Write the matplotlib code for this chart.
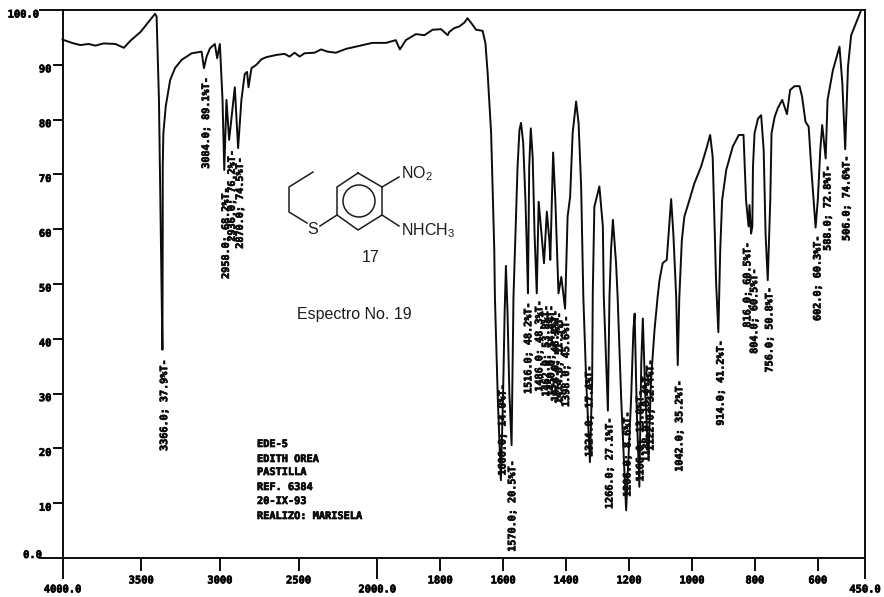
import matplotlib
matplotlib.use("Agg")
import matplotlib.pyplot as plt
import matplotlib.patheffects as pe
from matplotlib.patches import Circle
from matplotlib.transforms import ScaledTranslation
import numpy as np

# spectrum trace
wavenumber = [4000, 3940, 3887, 3834, 3791, 3738, 3664, 3610, 3568, 3504, 3451, 3412, 3402, 3387, 3365,
              3363, 3363, 3359, 3344, 3316, 3285, 3243, 3179, 3116, 3101, 3084, 3063, 3032, 3017, 3000,
              2983, 2972, 2958, 2941, 2905, 2884, 2863, 2842, 2827, 2818, 2799, 2768, 2736, 2704, 2641,
              2589, 2557, 2525, 2493, 2462, 2399, 2357, 2315, 2263, 2199, 2093, 2031, 1972, 1941, 1928,
              1909, 1877, 1850, 1824, 1797, 1776, 1771, 1755, 1739, 1723, 1713, 1697, 1686, 1665, 1656,
              1649, 1638, 1628, 1626, 1617, 1607, 1600, 1595, 1591, 1586, 1580, 1573, 1567, 1559,
              1554, 1548, 1543, 1536, 1529, 1525, 1521, 1517, 1512, 1506, 1500, 1493, 1487, 1480, 1470,
              1461, 1453, 1450, 1441, 1434, 1424, 1415, 1403, 1395, 1387, 1379, 1368, 1360, 1352, 1345,
              1336, 1324, 1317, 1315, 1310, 1294, 1283, 1280, 1267, 1262, 1257, 1251, 1241, 1236, 1225,
              1209, 1193, 1186, 1182, 1175, 1167, 1161, 1156, 1148, 1138, 1130, 1119, 1109, 1103, 1093,
              1080, 1066, 1059, 1050, 1045, 1040, 1032, 1024, 1008, 992, 971, 955, 942, 934, 923,
              916, 910, 904, 891, 870, 851, 836, 828, 820, 817, 812, 808, 806, 801, 790,
              780, 772, 766, 759, 751, 747, 737, 727, 713, 698, 688, 674, 658, 650, 639,
              629, 621, 607, 600, 592, 586, 582, 575, 569, 552, 531, 522, 513, 504, 494,
              483, 462]
transmittance = [94.6, 94.0, 93.6, 93.8, 93.5, 93.9, 93.8, 93.1, 94.4, 96.0, 97.9, 99.3, 98.8, 83.6, 38.0,
                 59.2, 71.4, 77.5, 82.4, 87.2, 89.4, 90.9, 92.1, 92.4, 89.4, 91.5, 93.0, 93.8, 91.2, 93.8,
                 83.6, 70.8, 83.6, 76.3, 85.9, 74.8, 83.6, 88.3, 88.7, 85.9, 89.4, 90.0, 91.0, 91.4, 91.8,
                 92.0, 91.5, 92.2, 91.5, 92.1, 92.2, 92.8, 92.4, 92.2, 92.9, 93.6, 94.0, 94.0, 94.5, 92.8,
                 94.5, 95.6, 95.4, 96.4, 96.5, 95.4, 96.0, 96.7, 97.0, 97.7, 98.5, 97.3, 96.4, 96.2, 93.9,
                 88.4, 77.5, 56.2, 47.6, 29.4, 14.2, 30.0, 45.0, 53.3, 45.0, 30.0, 20.6, 47.6, 62.3,
                 71.4, 78.1, 79.4, 75.7, 65.3, 57.4, 48.3, 71.4, 78.4, 73.2, 59.2, 48.3, 65.0, 60.5, 53.8,
                 63.2, 58.0, 54.4, 74.0, 65.3, 48.3, 51.3, 45.5, 62.3, 65.9, 77.5, 83.3, 79.3, 67.8, 47.6,
                 32.4, 17.5, 32.4, 48.3, 64.1, 67.8, 60.5, 47.6, 26.9, 47.6, 56.2, 61.7, 53.8, 47.6, 29.4,
                 8.7, 29.4, 41.5, 44.6, 26.3, 13.0, 35.5, 43.7, 29.4, 18.4, 32.4, 41.5, 47.6, 50.7, 53.8,
                 54.4, 65.5, 59.2, 47.7, 35.2, 47.6, 58.0, 62.3, 65.3, 68.4, 71.4, 74.5, 77.2, 73.2, 50.1,
                 41.2, 56.2, 65.3, 70.8, 75.1, 77.2, 77.2, 65.3, 60.5, 64.4, 59.2, 60.5, 71.4, 77.5, 80.2,
                 80.8, 74.5, 59.2, 50.7, 65.3, 77.5, 80.5, 82.1, 83.6, 81.0, 85.4, 86.1, 86.1, 84.2, 79.6,
                 78.7, 71.4, 60.3, 65.3, 74.5, 79.0, 76.9, 72.9, 83.6, 89.0, 93.3, 86.6, 74.6, 89.7, 95.4,
                 97.0, 100.0]

# peak labels printed by the instrument
peak_text = ["3366.0; 37.9%T-", "3084.0; 89.1%T-", "2958.0; 68.2%T-", "2936.0; 76.2%T-", "2870.0; 74.5%T-",
             "1606.0; 14.0%T-", "1570.0; 20.5%T-", "1516.0; 48.2%T-", "1486.0; 48.3%T-", "1462.0; 53.8%T-",
             "1450.0; 54.4%T-", "1424.0; 48.3%T-", "1414.0; 51.3%T-", "1398.0; 45.6%T-", "1324.0; 17.4%T-",
             "1266.0; 27.1%T-", "1206.0; 8.6%T-", "1166.0; 13.0%T-", "1138.0; 18.4%T-", "1122.0; 32.4%T-",
             "1042.0; 35.2%T-", "914.0; 41.2%T-", "816.0; 60.5%T-", "804.0; 60.5%T-", "756.0; 50.8%T-",
             "602.0; 60.3%T-", "588.0; 72.8%T-", "506.0; 74.6%T-"]
label_wn = [3354, 3088, 2962, 2924, 2873, 1602, 1571, 1520, 1485, 1463, 1447, 1434, 1422, 1400, 1326,
            1262, 1205, 1164, 1145, 1132, 1040, 909, 824, 802, 754, 601, 569, 509]
label_top = [36.3, 87.8, 67.7, 74.5, 73.2, 31.8, 17.9, 46.7, 47.1, 46.2, 46.2, 45.3, 44.9, 44.3, 35.2,
             25.7, 26.8, 30.7, 34.3, 36.3, 32.5, 39.8, 57.7, 52.9, 49.5, 58.9, 71.7, 73.5]

info_lines = ["EDE-5", "EDITH OREA", "PASTILLA", "REF. 6384", "20-IX-93", "REALIZO: MARISELA"]
info_y = [444, 459, 472, 487, 501, 516]

x_major = [4000, 2000, 450]
x_major_labels = ["4000.0", "2000.0", "450.0"]
x_minor = [3500, 3000, 2500, 1800, 1600, 1400, 1200, 1000, 800, 600]
x_minor_labels = ["3500", "3000", "2500", "1800", "1600", "1400", "1200", "1000", "800", "600"]
y_major = [0, 100]
y_major_labels = ["0.0", "100.0"]
y_minor = [10, 20, 30, 40, 50, 60, 70, 80, 90]
y_minor_labels = ["10", "20", "30", "40", "50", "60", "70", "80", "90"]

# molecule sketch, in image pixels
ring_x = [358, 382, 382, 358, 337, 337, 358]
ring_y = [173, 187, 215, 230, 215, 187, 173]
chain_x = [313, 289, 289, 307]
chain_y = [172, 187, 212, 223]

W, H = 884, 597
LEFT, RIGHT, TOP, BOTTOM = 62.5, 865, 10, 558
MONO = "DejaVu Sans Mono"
SANS = "Liberation Sans"
INK = "#0c0c0c"
# thickens the printer-style text a little
HEAVY = [pe.withStroke(linewidth=0.5, foreground=INK)]


# the instrument doubles the x scale below 2000 cm-1
def forward(w):
    w = np.asarray(w, dtype=float)
    return np.where(w >= 2000, w, 2000 - (2000 - w) * 2)


def inverse(v):
    v = np.asarray(v, dtype=float)
    return np.where(v >= 2000, v, 2000 - (2000 - v) / 2)


plt.rcParams["mathtext.default"] = "regular"

fig = plt.figure(figsize=(W / 100, H / 100), dpi=100)
ax = fig.add_axes([LEFT / W, 1 - BOTTOM / H, (RIGHT - LEFT) / W, (BOTTOM - TOP) / H])
ax.set_xscale("function", functions=(forward, inverse))
ax.plot(wavenumber, transmittance, color=INK, lw=1.4, clip_on=False)
ax.set_xlim(4000, 450)
ax.set_ylim(0, 100)

ax.set_xticks(x_major, labels=x_major_labels)
ax.set_xticks(x_minor, labels=x_minor_labels, minor=True)
ax.set_yticks(y_major, labels=y_major_labels)
ax.set_yticks(y_minor, labels=y_minor_labels, minor=True)
ax.tick_params(axis="x", which="major", length=15, width=1.4, pad=4, color=INK)
ax.tick_params(axis="x", which="minor", length=9, width=1.4, pad=3.5, color=INK)
ax.tick_params(axis="y", which="major", length=17, width=1.4, pad=0, color=INK)
ax.tick_params(axis="y", which="minor", length=7, width=1.4, pad=1, color=INK)
for lab in ax.get_xticklabels() + ax.get_xticklabels(minor=True):
    lab.set_fontfamily(MONO)
    lab.set_fontweight("bold")
    lab.set_fontsize(7.5)
    lab.set_path_effects(HEAVY)
for lab in ax.get_yticklabels() + ax.get_yticklabels(minor=True):
    lab.set_fontfamily(MONO)
    lab.set_fontweight("bold")
    lab.set_fontsize(7.5)
    lab.set_path_effects(HEAVY)
    if lab.get_text() == "0.0":
        shift = ScaledTranslation(3 / 100, 4 / 100, fig.dpi_scale_trans)
    else:
        shift = ScaledTranslation(0, -3.5 / 100, fig.dpi_scale_trans)
    lab.set_transform(lab.get_transform() + shift)

for side in ax.spines:
    ax.spines[side].set_linewidth(1.4)
    ax.spines[side].set_color(INK)

for txt, wn, top in zip(peak_text, label_wn, label_top):
    ax.text(wn, top, txt, rotation=90, ha="center", va="top", family=MONO, weight="bold",
            fontsize=7.3, color=INK, path_effects=HEAVY)

# overlay in image pixels for the notes and the drawn molecule
over = fig.add_axes([0, 0, 1, 1])
over.set_xlim(0, W)
over.set_ylim(H, 0)
over.axis("off")
over.patch.set_alpha(0)

for line, y in zip(info_lines, info_y):
    over.text(257, y, line, ha="left", va="center", family=MONO, weight="bold", fontsize=7.4, color=INK,
              path_effects=HEAVY)

over.plot(ring_x, ring_y, color="#1c1c1c", lw=1.1)
over.add_patch(Circle((359, 201), 16, fill=False, ec="#1c1c1c", lw=1.1))
over.plot(chain_x, chain_y, color="#1c1c1c", lw=1.1)
over.plot([320, 337], [226, 215], color="#1c1c1c", lw=1.1)
over.plot([382, 399], [187, 177], color="#1c1c1c", lw=1.1)
over.plot([382, 399], [215, 226], color="#1c1c1c", lw=1.1)

over.text(313, 229, "S", ha="center", va="center", family=SANS, fontsize=11.5, color="#1c1c1c")
over.text(401, 174, "NO$_2$", ha="left", va="center", family=SANS, fontsize=11.5, color="#1c1c1c")
over.text(401, 231, "NHCH$_3$", ha="left", va="center", family=SANS, fontsize=11.5, color="#1c1c1c")
over.text(371, 258, "17", ha="center", va="center", family=SANS, fontsize=11.5, color="#1c1c1c")
over.text(354, 314, "Espectro No. 19", ha="center", va="center", family=SANS, fontsize=11.5, color="#1c1c1c")

fig.savefig("out.png", dpi=100)
